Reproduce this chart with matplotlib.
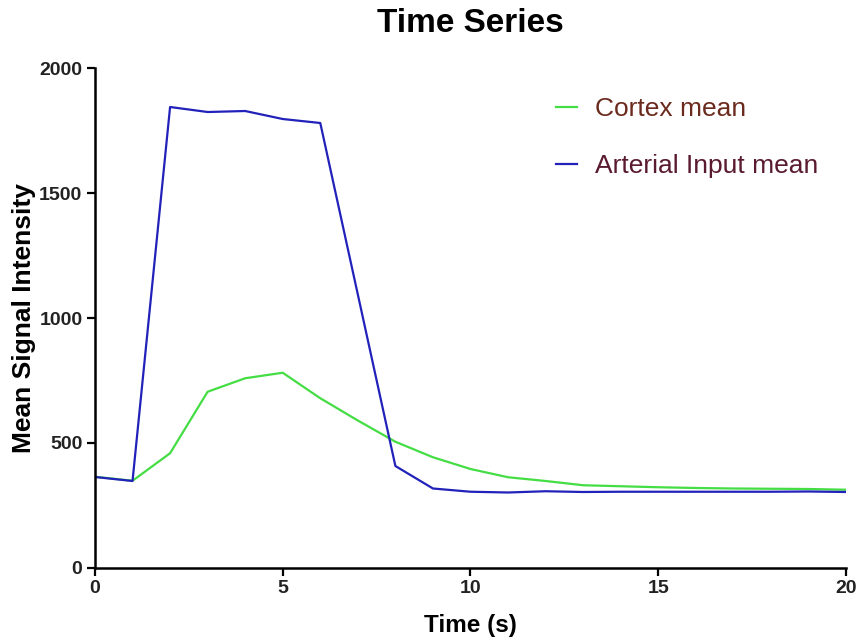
import matplotlib
matplotlib.use("Agg")
import matplotlib.pyplot as plt

time_s = list(range(21))
cortex_mean = [365, 349, 459, 705, 759, 781, 679, 590, 505, 443, 396, 363, 348, 331, 327, 323, 320, 318, 317, 316, 313]
arterial_mean = [364, 348, 1844, 1824, 1828, 1796, 1780, 1094, 408, 318, 305, 302, 307, 304, 305, 305, 305, 305, 305, 306, 304]

plt.rcParams['font.family'] = ['Liberation Sans', 'DejaVu Sans']

fig = plt.figure(figsize=(8.58, 6.41), dpi=100)
ax = fig.add_axes([0.1107, 0.1139, 0.8753, 0.780])

ax.plot(time_s, cortex_mean, color='#44DD44', lw=1.6, label='Cortex mean')
ax.plot(time_s, arterial_mean, color='#2222BB', lw=1.6, label='Arterial Input mean')

ax.set_xlim(0, 20)
ax.set_ylim(0, 2000)
ax.set_xticks([0, 5, 10, 15, 20])
ax.set_yticks([0, 500, 1000, 1500, 2000])
for s in ['top', 'right']:
    ax.spines[s].set_visible(False)
for s in ['left', 'bottom']:
    ax.spines[s].set_linewidth(1.8)
ax.tick_params(axis='both', direction='out', length=6, width=1.6, labelsize=14, pad=3)
for lbl in ax.get_xticklabels() + ax.get_yticklabels():
    lbl.set_fontweight('bold')
    lbl.set_color('#222222')

ax.set_title('Time Series', fontsize=24, fontweight='bold', pad=26)
ax.set_xlabel('Time (s)', fontsize=17.5, fontweight='bold', labelpad=12)
ax.set_ylabel('Mean Signal Intensity', fontsize=19, fontweight='bold', labelpad=2)

leg = ax.legend(loc='upper right', bbox_to_anchor=(0.995, 0.99), frameon=False, fontsize=19,
                handlelength=0.8, handletextpad=0.7, labelspacing=1.25)
for t, c in zip(leg.get_texts(), ['#6B2A1E', '#5A1A30']):
    t.set_color(c)

fig.savefig('out.png', dpi=100)
